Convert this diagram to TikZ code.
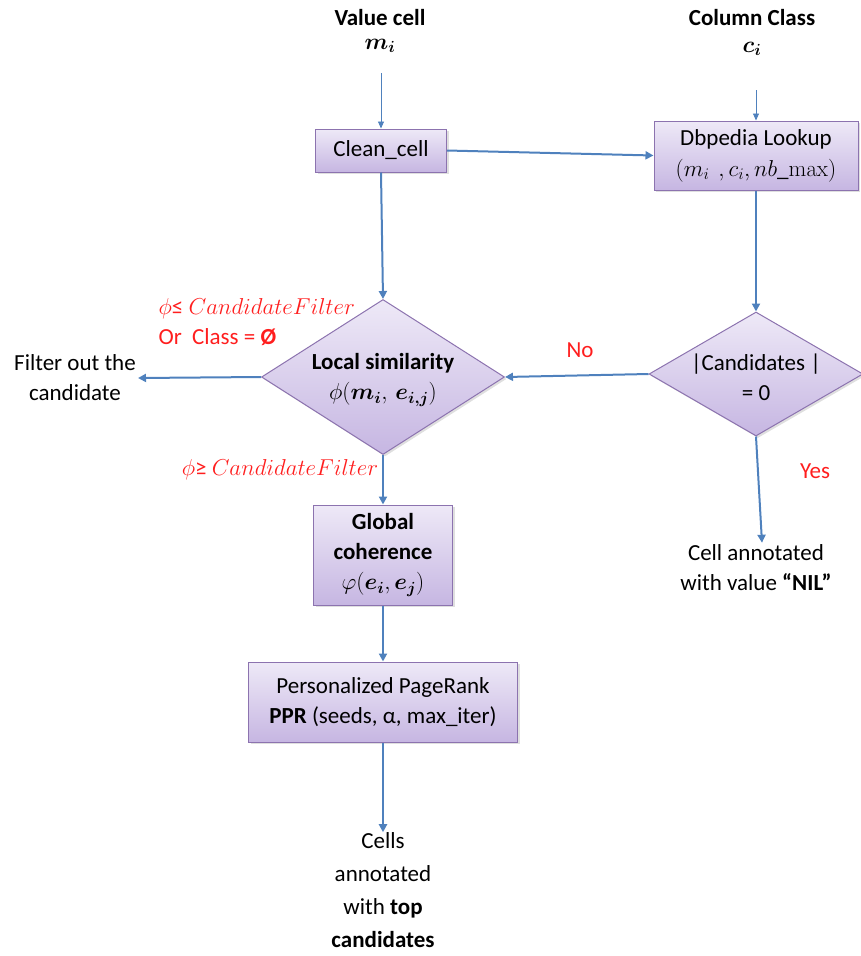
\RequirePackage{fix-cm}
\documentclass[tikz,border=0pt]{standalone}
\usepackage{amsmath,bm}
\usepackage[no-math]{fontspec}
\setmainfont{Carlito}
\usetikzlibrary{shapes.geometric,arrows.meta,shadows}
\definecolor{arrowblue}{RGB}{79,129,189}
\definecolor{boxtop}{RGB}{238,233,247}
\definecolor{boxbot}{RGB}{198,182,226}
\definecolor{boxline}{RGB}{140,115,175}
\definecolor{redtxt}{RGB}{255,30,30}
\newcommand\basefont{\fontsize{23}{30}\selectfont}
\tikzset{
  every node/.style={font=\basefont},
  procbox/.style={draw=boxline, line width=1pt, top color=boxtop, bottom color=boxbot,
    align=center, inner sep=2pt, drop shadow={opacity=0.25,shadow xshift=2pt,shadow yshift=-2pt}},
  decision/.style={diamond, draw=boxline, line width=1pt, top color=boxtop, bottom color=boxbot,
    inner sep=0pt, drop shadow={opacity=0.25,shadow xshift=2pt,shadow yshift=-2pt}},
  arr/.style={draw=arrowblue, line width=2pt, -{Triangle[length=8pt,width=8pt]}},
  thinarr/.style={draw=arrowblue, line width=0.9pt, -{Triangle[length=7pt,width=6pt]}},
  redlbl/.style={text=redtxt, font=\basefont},
  plain/.style={align=center, inner sep=2pt}
}
\begin{document}
\begin{tikzpicture}[x=1pt,y=-1pt]
\useasboundingbox (0,0) rectangle (860,956);

% inputs
\node[font=\basefont\bfseries] (vc) at (380,18) {Value cell};
\node (mi) at (380,46) {$\bm{m_i}$};
\coordinate (mia) at (381,73);
\node[font=\basefont\bfseries] (cc) at (752,18) {Column Class};
\node (ci) at (752,49) {$\bm{c_i}$};
\coordinate (cia) at (756,90);

% boxes
\node[procbox, minimum width=131pt, minimum height=43pt] (clean) at (381,150.5) {Clean\_cell};
\node[procbox, minimum width=204pt, minimum height=69pt] (dbp) at (756,155.5)
  {Dbpedia Lookup\\[1pt]$(m_i\ \,, c_i, nb\_\mathrm{max})$};

% diamonds
\node[decision, minimum width=243pt, minimum height=155pt] (ls) at (383,377) {};
\node[plain] (lst) at (383,380) {\textbf{Local similarity}\\$\phi(\bm{m_i},\,\bm{e_{i,j}})$};
\node[decision, minimum width=214pt, minimum height=124pt] (cand) at (756,374) {};
\node[plain] (candt) at (756,377) {|Candidates |\\= 0};

\node[procbox, minimum width=139pt, minimum height=100pt] (glob) at (383,555)
  {\textbf{Global}\\\textbf{coherence}\\$\varphi(\bm{e_i},\bm{e_j})$};
\node[procbox, minimum width=269pt, minimum height=80pt] (ppr) at (383,702)
  {Personalized PageRank\\\textbf{PPR} (seeds, α, max\_iter)};

% outputs
\node[plain] (filt) at (75,378) {Filter out the\\candidate};
\node[plain, font=\fontsize{23}{33}\selectfont] (res) at (383,890)
  {Cells\\annotated\\with \textbf{top}\\\textbf{candidates}};
\node[plain] (nil) at (756,568) {Cell annotated\\with value \textbf{“NIL”}};

% labels
\node[redlbl, align=left, anchor=west] (lbl1) at (155,322) {$\phi$≤ $CandidateFilter$\\Or\ \ Class = \textbf{Ø}};
\node[redlbl] (lbl2) at (280,470) {$\phi$≥ $CandidateFilter$};
\node[redlbl] (lno) at (580,350) {No};
\node[redlbl] (lyes) at (815,471) {Yes};

% connectors
\draw[thinarr] (mia) -- (mia |- clean.north);
\draw[thinarr] (cia) -- (cia |- dbp.north);
\draw[arr] (clean.east) -- (dbp.west);
\draw[arr] (clean.south) -- (ls.north);
\draw[arr] (dbp.south) -- (cand.north);
\draw[arr] (cand.west) -- (ls.east);
\draw[arr] (ls.west) -- (filt.east);
\draw[arr] (ls.south) -- (glob.north);
\draw[arr] (glob.south) -- (ppr.north);
\draw[arr] (ppr.south) -- ([yshift=-2pt]res.north);
\draw[arr] (cand.south) -- ([xshift=6pt]nil.north);
\end{tikzpicture}
\end{document}
